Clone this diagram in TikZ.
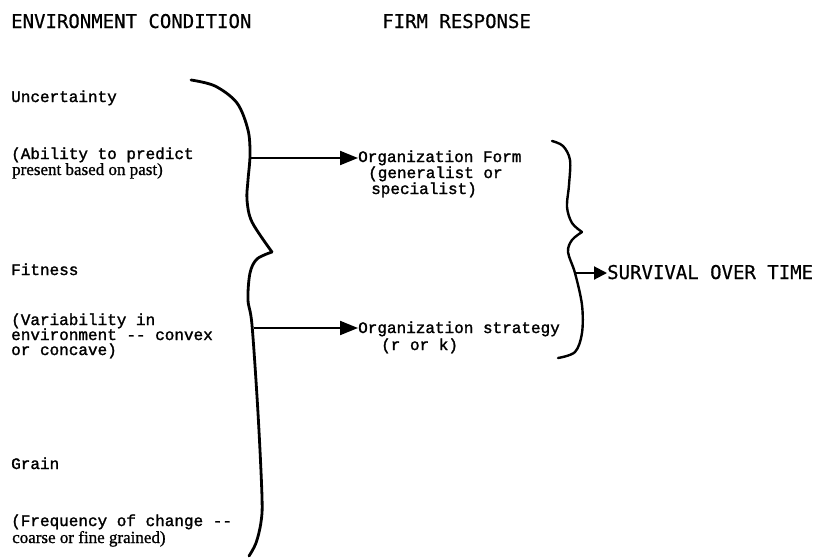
\documentclass[tikz,border=0pt]{standalone}
\usepackage{fontspec}
\setmainfont[FakeBold=1]{Liberation Serif}
\newfontfamily\courfont[FakeBold=1.6]{Liberation Mono}
\newfontfamily\hdrfont[FakeBold=0.6]{DejaVu Sans Mono}
\usetikzlibrary{arrows.meta}
\begin{document}
\begin{tikzpicture}[x=1pt,y=-1pt,
  hdrtext/.style={font=\hdrfont\fontsize{19}{20}\selectfont, inner sep=0pt, anchor=base west},
  tytext/.style={font=\courfont\fontsize{16}{16}\selectfont, inner sep=0pt, anchor=base west},
  rmtext/.style={font=\fontsize{17}{17}\selectfont, inner sep=0pt, anchor=base west},
  bracestroke/.style={line width=2.8pt, line cap=round, line join=round},
  arr/.style={line width=2pt, -{Triangle[length=18pt,width=14pt]}},
  smallarr/.style={line width=2pt, -{Triangle[length=13pt,width=13pt]}}]
\useasboundingbox (0,0) rectangle (816,557);

% headers
\node[hdrtext] (h1) at (11,28) {ENVIRONMENT CONDITION};
\node[hdrtext] (h2) at (382,28) {FIRM RESPONSE};

% left column
\node[tytext] (unc) at (11,102) {Uncertainty};
\node[tytext] (unc1) at (11,159) {(Ability to predict};
\node[rmtext] (unc2) at (12,175) {present based on past)};

\node[tytext] (fit) at (11,275) {Fitness};
\node[tytext] (fit1) at (11,325) {(Variability in};
\node[tytext] (fit2) at (11,340) {environment -- convex};
\node[tytext] (fit3) at (11,355) {or concave)};

\node[tytext] (gr) at (11,469) {Grain};
\node[tytext] (gr1) at (11,526) {(Frequency of change --};
\node[rmtext] (gr2) at (12,543) {coarse or fine grained)};

% middle column
\node[tytext] (form) at (358,162) {Organization Form};
\node[tytext] (form1) at (368,178) {(generalist or};
\node[tytext] (form2) at (371,194) {specialist)};

\node[tytext] (strat) at (358,333) {Organization strategy};
\node[tytext] (strat1) at (381,350) {(r or k)};

\node[hdrtext] (surv) at (607,279) {SURVIVAL OVER TIME};

% left brace
\draw[bracestroke] plot[smooth, tension=0.55] coordinates
  {(191,80) (215,86) (237,103) (248,130) (250,155) (248,180) (247,200) (252,222) (272,252)};
\draw[bracestroke] plot[smooth, tension=0.55] coordinates
  {(272,252) (257,259) (250,273) (248,300) (252,325) (258,413) (262,497) (261,522) (256,543) (249,556)};

% right brace
\draw[bracestroke, line width=2.4pt] plot[smooth, tension=0.55] coordinates
  {(552,141) (563,146) (570,160) (569,185) (567,207) (572,223) (582,232)};
\draw[bracestroke, line width=2.4pt] plot[smooth, tension=0.55] coordinates
  {(582,232) (572,240) (568,252) (575,273) (582,305) (582,333) (575,352) (558,358)};

% connectors
\coordinate (lb1) at (251,158);
\coordinate (lb2) at (254,328);
\coordinate (rb1) at (575,273);
\draw[arr] (lb1) -- (lb1 -| form.west);
\draw[arr] (lb2) -- (lb2 -| strat.west);
\draw[smallarr] (rb1) -- (rb1 -| surv.west);
\end{tikzpicture}
\end{document}
